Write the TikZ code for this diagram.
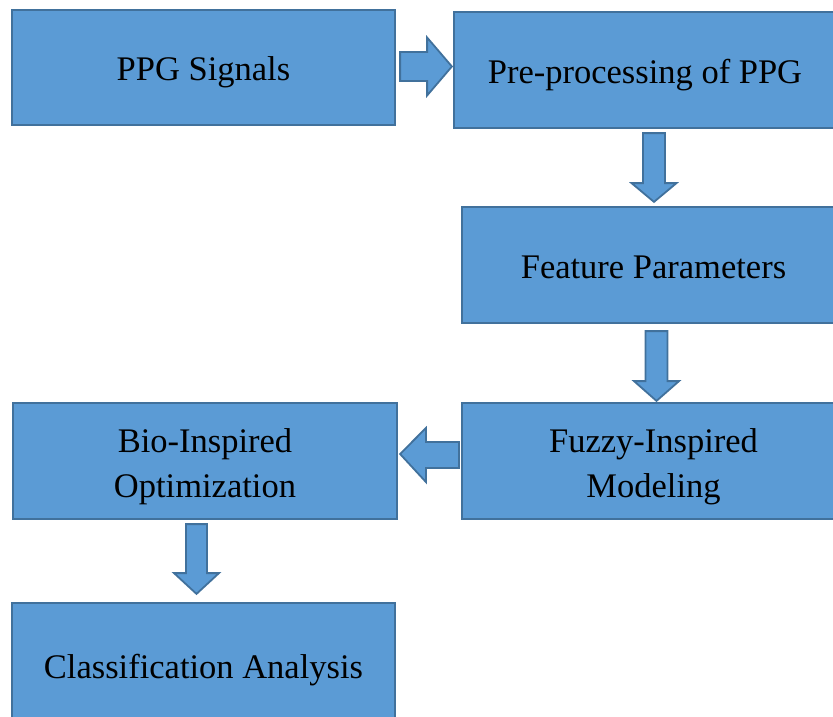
\documentclass[tikz,border=0pt]{standalone}
\usepackage{fontspec}
\setmainfont{Liberation Serif}
\usetikzlibrary{calc}
\definecolor{boxfill}{HTML}{5B9BD5}
\definecolor{boxline}{HTML}{41719C}
\newcommand{\topstrut}{\rule{0pt}{35pt}}
\tikzset{
  blk/.style={draw=boxline, line width=2.2pt, fill=boxfill, inner sep=0pt,
    font=\fontsize{34.5}{45}\selectfont, text=black, align=center},
  oneline/.style={text height=34pt, text depth=8pt},
  barrow/.style={draw=boxline, line width=1.8pt, fill=boxfill, line join=miter},
}
\begin{document}
\begin{tikzpicture}[x=1pt,y=-1pt]
\useasboundingbox (0,0) rectangle (833,716);
\clip (0,0) rectangle (833,716);
\node[blk, oneline, minimum width=383pt, minimum height=115pt] (ppg) at (203.5,67.5) {PPG Signals};
\node[blk, oneline, minimum width=382pt, minimum height=116pt] (pre) at (645,70) {Pre-processing of PPG};
\node[blk, oneline, minimum width=383pt, minimum height=116pt] (feat) at (653.5,265) {Feature Parameters};
\node[blk, minimum width=383pt, minimum height=116pt] (fuzzy) at (653.5,461) {\topstrut Fuzzy-Inspired\\Modeling};
\node[blk, minimum width=384pt, minimum height=116pt] (bio) at (205,461) {\topstrut Bio-Inspired\\Optimization};
\node[blk, oneline, minimum width=383pt, minimum height=124pt] (cls) at (203.5,665) {Classification Analysis};
% right arrow ppg -> pre
\coordinate (a1) at ($(ppg.east)+(4,-1)$);
\draw[barrow] (a1) ++(0,-14.5) -- ++(27,0) -- ++(0,-14.5) -- ($(pre.west)+(-1,-3.5)$)
  -- ($(a1)+(27,29)$) -- ++(0,-14.5) -- ($(a1)+(0,14.5)$) -- cycle;
% down arrow pre -> feat
\coordinate (a2) at ($(pre.south)+(9,4)$);
\draw[barrow] ($(a2)+(-11,0)$) -- ($(a2)+(11,0)$) -- ($(a2)+(11,50)$) -- ($(a2)+(22.5,50)$)
  -- ($(feat.north)+(0.5,-4)$) -- ($(a2)+(-22.5,50)$) -- ($(a2)+(-11,50)$) -- cycle;
% down arrow feat -> fuzzy
\coordinate (a3) at ($(feat.south)+(3,7)$);
\draw[barrow] ($(a3)+(-11,0)$) -- ($(a3)+(11,0)$) -- ($(a3)+(11,50)$) -- ($(a3)+(22.5,50)$)
  -- ($(fuzzy.north)+(3,-1)$) -- ($(a3)+(-22.5,50)$) -- ($(a3)+(-11,50)$) -- cycle;
% left arrow fuzzy -> bio
\coordinate (a4) at ($(fuzzy.west)+(-2,-6)$);
\draw[barrow] ($(a4)+(0,-13)$) -- ($(a4)+(-33,-13)$) -- ($(a4)+(-33,-27)$)
  -- ($(bio.east)+(2,-7)$) -- ($(a4)+(-33,27)$) -- ($(a4)+(-33,13)$) -- ($(a4)+(0,13)$) -- cycle;
% down arrow bio -> cls
\coordinate (a5) at ($(bio.south)+(-8.5,4)$);
\draw[barrow] ($(a5)+(-10.5,0)$) -- ($(a5)+(10.5,0)$) -- ($(a5)+(10.5,49)$) -- ($(a5)+(22.5,49)$)
  -- ($(cls.north)+(-7,-8)$) -- ($(a5)+(-22.5,49)$) -- ($(a5)+(-10.5,49)$) -- cycle;
\end{tikzpicture}
\end{document}
